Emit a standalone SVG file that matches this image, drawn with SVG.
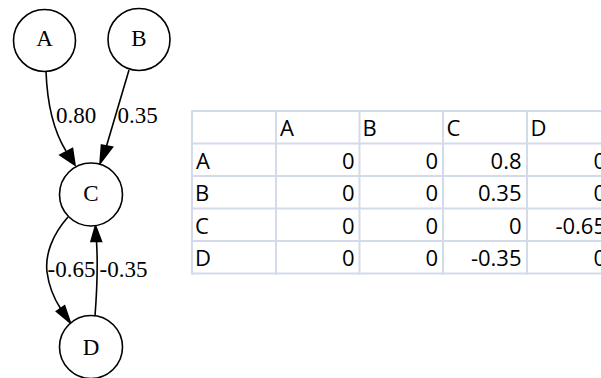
<svg xmlns="http://www.w3.org/2000/svg" width="601" height="378" viewBox="0 0 601 378">
<style>
.node circle{fill:#fff;stroke:#000;stroke-width:1.6}
.node text{font-family:"Liberation Serif",serif;font-size:23px;text-anchor:middle;fill:#000}
.edge path{fill:none;stroke:#000;stroke-width:1.6}
.edge polygon{fill:#000;stroke:#000;stroke-width:1.6}
.elabel{font-family:"Liberation Serif",serif;font-size:23px;fill:#000}
.grid line{stroke:#d3dae9;stroke-width:2}
.tt{font-family:"Open Sans","Noto Sans",sans-serif;font-size:22px;fill:#000}
.r{text-anchor:end}
</style>
<rect width="601" height="378" fill="#fff"/>
<g id="edges" class="edge">
  <path d="M46,71 C47,100 53,130 66,151"/>
  <polygon points="60,155 72.5,148.5 75,165"/>
  <text class="elabel" x="56" y="123">0.80</text>
  <path d="M129,70 L106.5,146"/>
  <polygon points="101.5,145 112.5,147 100,163.5"/>
  <text class="elabel" x="117.5" y="123">0.35</text>
  <path d="M68,217 C52,235 45,255 47,272 C49,287 55,300 60.5,308.5"/>
  <polygon points="56.4,311.3 64.6,305.7 70.5,323"/>
  <text class="elabel" x="47.5" y="276.5">-0.65</text>
  <path d="M95,316 C97,290 98,265 96.5,241"/>
  <polygon points="91,241.5 101.5,241.5 95.5,225.5"/>
  <text class="elabel" x="99.5" y="276.5">-0.35</text>
</g>
<g id="node-A" class="node"><circle cx="44.5" cy="40.5" r="31"/><text x="44.5" y="46">A</text></g>
<g id="node-B" class="node"><circle cx="139" cy="39.5" r="31"/><text x="139" y="45.5">B</text></g>
<g id="node-C" class="node"><circle cx="91" cy="194.5" r="31.5"/><text x="91" y="200.5">C</text></g>
<g id="node-D" class="node"><circle cx="91" cy="347" r="31.5"/><text x="91" y="354.5">D</text></g>
<g id="table">
  <g class="grid">
    <line x1="192" y1="111" x2="611" y2="111"/>
    <line x1="192" y1="143.5" x2="611" y2="143.5"/>
    <line x1="192" y1="176" x2="611" y2="176"/>
    <line x1="192" y1="208.5" x2="611" y2="208.5"/>
    <line x1="192" y1="241" x2="611" y2="241"/>
    <line x1="192" y1="273.5" x2="611" y2="273.5"/>
    <line x1="192" y1="110" x2="192" y2="274.5"/>
    <line x1="276" y1="110" x2="276" y2="274.5"/>
    <line x1="359.5" y1="110" x2="359.5" y2="274.5"/>
    <line x1="443" y1="110" x2="443" y2="274.5"/>
    <line x1="527" y1="110" x2="527" y2="274.5"/>
  </g>
  <g class="tt">
    <text x="280" y="136">A</text>
    <text x="362.5" y="136">B</text>
    <text x="446.5" y="136">C</text>
    <text x="530.5" y="136">D</text>
    <text x="196" y="168.5">A</text>
    <text x="195" y="201">B</text>
    <text x="195" y="233.5">C</text>
    <text x="195" y="266">D</text>
    <text class="r" x="354.5" y="168.5">0</text>
    <text class="r" x="438" y="168.5">0</text>
    <text class="r" x="521.5" y="168.5">0.8</text>
    <text class="r" x="606" y="168.5">0</text>
    <text class="r" x="354.5" y="201">0</text>
    <text class="r" x="438" y="201">0</text>
    <text class="r" x="521.5" y="201">0.35</text>
    <text class="r" x="606" y="201">0</text>
    <text class="r" x="354.5" y="233.5">0</text>
    <text class="r" x="438" y="233.5">0</text>
    <text class="r" x="521.5" y="233.5">0</text>
    <text class="r" x="606" y="233.5">-0.65</text>
    <text class="r" x="354.5" y="266">0</text>
    <text class="r" x="438" y="266">0</text>
    <text class="r" x="521.5" y="266">-0.35</text>
    <text class="r" x="606" y="266">0</text>
  </g>
</g>
</svg>
